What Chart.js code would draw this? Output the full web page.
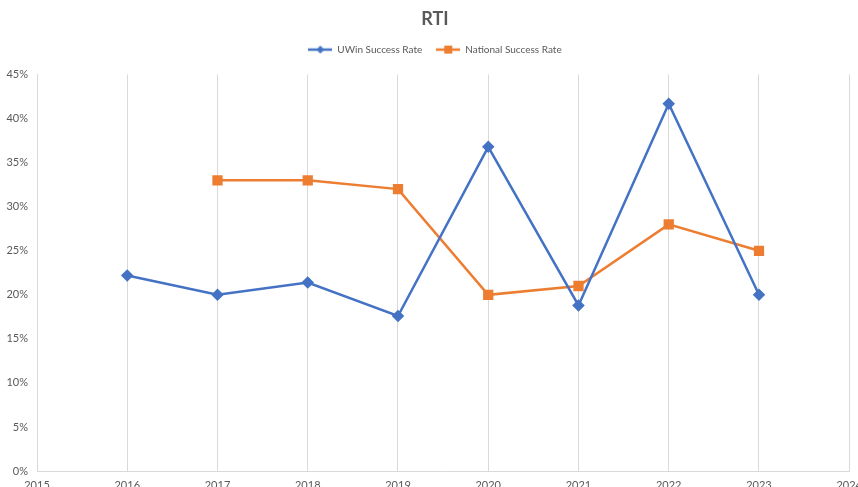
<!DOCTYPE html>
<html>
<head>
<meta charset="utf-8">
<script src="https://cdn.jsdelivr.net/npm/chart.js@4.4.0/dist/chart.umd.min.js"></script>
<style>
  html, body { margin: 0; padding: 0; background: #fff; overflow: hidden; }
  #wrap { width: 870px; height: 496px; position: relative; }
</style>
</head>
<body>
<div id="wrap"><canvas id="chart"></canvas></div>
<script>
const uwinYears = [2016, 2017, 2018, 2019, 2020, 2021, 2022, 2023];
const uwinRate = [22.2, 20.0, 21.4, 17.6, 36.8, 18.8, 41.7, 20.0];
const nationalYears = [2017, 2018, 2019, 2020, 2021, 2022, 2023];
const nationalRate = [33.0, 33.0, 32.0, 20.0, 21.0, 28.0, 25.0];

const blue = '#4472C4';
const orange = '#ED7D31';
const textGrey = '#595959';
const gridGrey = '#D9D9D9';

// legend swatch: short line with the marker on it, like Excel
function swatch(color, shape) {
  const c = document.createElement('canvas');
  c.width = 24; c.height = 10;
  const g = c.getContext('2d');
  g.strokeStyle = color; g.lineWidth = 2.5;
  g.beginPath(); g.moveTo(0, 5); g.lineTo(24, 5); g.stroke();
  g.fillStyle = color;
  if (shape === 'diamond') {
    g.beginPath(); g.moveTo(12, 1); g.lineTo(16, 5); g.lineTo(12, 9); g.lineTo(8, 5); g.closePath(); g.fill();
  } else {
    g.fillRect(8, 1, 8, 8);
  }
  return c;
}

const toPoints = (xs, ys) => xs.map((x, i) => ({ x, y: ys[i] }));

// extra room under the legend
const legendGap = {
  id: 'legendGap',
  beforeInit(chart) {
    const fit = chart.legend.fit;
    chart.legend.fit = function () { fit.bind(chart.legend)(); this.height += 10; };
  },
};

new Chart(document.getElementById('chart'), {
  type: 'line',
  data: {
    datasets: [
      { label: 'UWin Success Rate', data: toPoints(uwinYears, uwinRate), borderColor: blue, backgroundColor: blue,
        borderWidth: 2.5, pointStyle: 'rectRot', pointRadius: 4.5, pointHoverRadius: 4.5, tension: 0 },
      { label: 'National Success Rate', data: toPoints(nationalYears, nationalRate), borderColor: orange, backgroundColor: orange,
        borderWidth: 2.5, pointStyle: 'rect', pointRadius: 5.5, pointHoverRadius: 5.5, tension: 0 },
    ],
  },
  options: {
    responsive: true,
    maintainAspectRatio: false,
    animation: false,
    plugins: {
      title: { display: true, text: 'RTI', color: textGrey, font: { family: 'Lato', size: 18, weight: 'bold' }, padding: { top: 8, bottom: 1 } },
      legend: {
        labels: {
          color: textGrey, font: { family: 'Lato', size: 10 }, usePointStyle: true, boxHeight: 10, pointStyleWidth: 24, padding: 14,
          generateLabels: (chart) => chart.data.datasets.map((d, i) => ({
            text: d.label, fontColor: textGrey, datasetIndex: i, hidden: false,
            pointStyle: swatch(d.borderColor, i === 0 ? 'diamond' : 'square'),
            strokeStyle: d.borderColor, fillStyle: d.borderColor, lineWidth: 0,
          })),
        },
      },
      tooltip: { enabled: false },
    },
    scales: {
      x: {
        type: 'linear', min: 2015, max: 2024,
        afterFit: (s) => { s.height = 496 - 471; },
        ticks: { stepSize: 1, color: textGrey, font: { family: 'Lato', size: 11 }, padding: 8, callback: (v) => String(v) },
        grid: { display: true, color: gridGrey, drawTicks: false, lineWidth: 1 },
        border: { display: true, color: gridGrey },
      },
      y: {
        min: 0, max: 45,
        afterFit: (s) => { s.width = 37; },
        ticks: { stepSize: 5, color: textGrey, font: { family: 'Lato', size: 11 }, padding: 9, callback: (v) => v + '%' },
        grid: { display: false, drawTicks: false },
        border: { display: true, color: gridGrey },
      },
    },
  },
  plugins: [legendGap],
});
</script>
</body>
</html>
